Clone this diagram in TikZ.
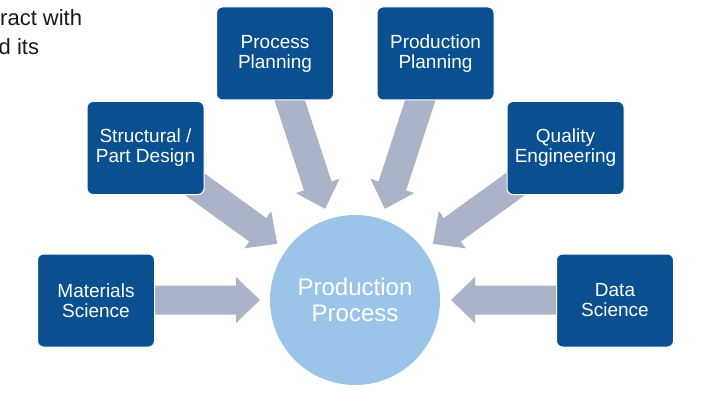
\documentclass[tikz,border=0pt]{standalone}
\usepackage{fontspec}
\setmainfont{Liberation Sans}
\usetikzlibrary{calc}
\definecolor{boxblue}{RGB}{10,80,145}
\definecolor{arrowgray}{RGB}{170,179,200}
\definecolor{circblue}{RGB}{155,197,232}
\definecolor{txtdark}{RGB}{25,25,25}
\tikzset{
  topicbox/.style={draw=white, line width=1pt, fill=boxblue, rounded corners=6pt,
    minimum width=117pt, minimum height=93pt, inner sep=0pt, text=white, align=center,
    font=\fontsize{19pt}{20pt}\selectfont},
  hub/.style={circle, fill=circblue, minimum size=170pt, inner sep=0pt, text=white, align=center,
    font=\fontsize{24pt}{26pt}\selectfont},
  arrowfill/.style={fill=arrowgray},
  cuttext/.style={anchor=base west, inner sep=0pt, text=txtdark, font=\fontsize{22pt}{29pt}\selectfont}
}
\newcommand{\blockarr}[2]{%
  \coordinate (hb) at ($(#2)!24pt!(#1)$);
  \fill[arrowfill] ($(#1)!14.5pt!90:(#2)$) -- ($(hb)!14.5pt!90:(#2)$) -- ($(hb)!23pt!90:(#2)$) -- (#2)
    -- ($(hb)!23pt!-90:(#2)$) -- ($(hb)!14.5pt!-90:(#2)$) -- ($(#1)!14.5pt!-90:(#2)$) -- cycle;}
\begin{document}
\begin{tikzpicture}[x=1pt,y=-1pt]
\useasboundingbox (0,0) rectangle (725,409);
% cut-off text at top left
\node[cuttext] (cut1) at (0,26) {ract with};
\node[cuttext] (cut2) at (-1.5,55) {d its};
% hub
\node[hub] (pp) at (355,300) {Production\\Process};
% arrow anchor coordinates
\coordinate (s1) at (150,300);
\coordinate (s2) at (193,183);
\coordinate (s3) at (288,95);
\coordinate (s4) at (422,95);
\coordinate (s5) at (517,183);
\coordinate (s6) at (560,300);
\coordinate (t1) at ($(pp)!95pt!(s1)$);
\coordinate (t2) at ($(pp)!96pt!(s2)$);
\coordinate (t3) at ($(pp)!96pt!(s3)$);
\coordinate (t4) at ($(pp)!96pt!(s4)$);
\coordinate (t5) at ($(pp)!96pt!(s5)$);
\coordinate (t6) at ($(pp)!96pt!(s6)$);
\blockarr{s1}{t1}
\blockarr{s2}{t2}
\blockarr{s3}{t3}
\blockarr{s4}{t4}
\blockarr{s5}{t5}
\blockarr{s6}{t6}
% boxes
\node[topicbox] (mat) at (96,300.5) {Materials\\Science};
\node[topicbox] (str) at (145.5,148) {Structural /\\Part Design};
\node[topicbox] (proc) at (275,53.5) {Process\\Planning};
\node[topicbox] (prod) at (435.5,53.5) {Production\\Planning};
\node[topicbox] (qual) at (565.5,148) {Quality\\Engineering};
\node[topicbox] (data) at (615,300.5) {Data\\Science};
\end{tikzpicture}
\end{document}
